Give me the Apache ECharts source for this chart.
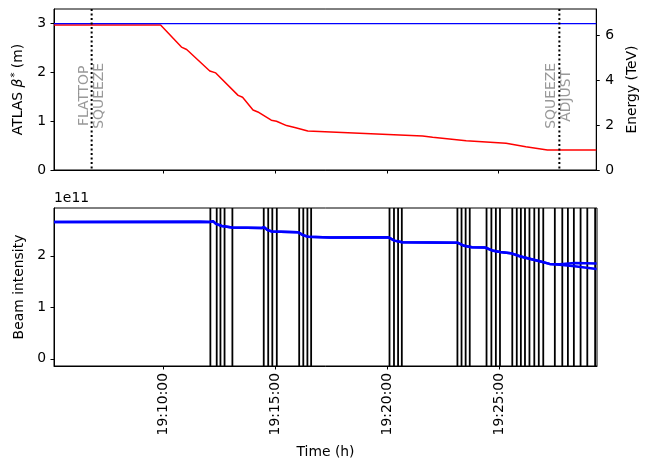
<!DOCTYPE html>
<html>
<head>
<meta charset="utf-8">
<script src="https://cdn.jsdelivr.net/npm/echarts@6/dist/echarts.min.js"></script>
<style>html,body{margin:0;padding:0;background:#fff}#c{width:647px;height:460px}</style>
</head>
<body>
<div id="c"></div>
<script>
// times are seconds since midnight
const xMin = 68707, xMax = 70162;
const timeTicks = [69000, 69300, 69600, 69900];

const betaTimes = [68707, 68993, 69049, 69063, 69125, 69141, 69201, 69213, 69241, 69254, 69290, 69304, 69331, 69353, 69388, 69696, 69723, 69813, 69920, 69973, 70031, 70162];
const betaValues = [2.97, 2.97, 2.52, 2.47, 2.03, 1.99, 1.53, 1.49, 1.23, 1.19, 1.02, 1.00, 0.91, 0.87, 0.80, 0.695, 0.67, 0.60, 0.546, 0.476, 0.41, 0.41];

const energyTimes = [68707, 70162];
const energyValues = [6.5, 6.5];

const phaseTimes = [68808, 70063];
const phaseLabels = ['FLATTOP\nSQUEEZE', 'SQUEEZE\nADJUST'];
const phaseLabelY = [1.52, 1.52];

// beam intensity in units of 1e11
const beamTimes = [68707, 69098, 69125, 69133, 69141, 69157, 69184, 69264, 69270, 69280, 69291, 69361, 69366, 69374, 69388, 69447, 69603, 69608, 69619, 69640, 69788, 69793, 69806, 69827, 69862, 69881, 69902, 69931, 69955, 69976, 70003, 70035, 70062, 70102, 70161];
const beam1Values = [2.657, 2.664, 2.660, 2.674, 2.622, 2.581, 2.550, 2.541, 2.556, 2.499, 2.474, 2.461, 2.480, 2.404, 2.372, 2.357, 2.361, 2.370, 2.296, 2.266, 2.256, 2.268, 2.195, 2.167, 2.163, 2.106, 2.076, 2.053, 1.992, 1.953, 1.905, 1.844, 1.835, 1.860, 1.850];
const beam2Values = [2.657, 2.664, 2.660, 2.674, 2.622, 2.581, 2.550, 2.541, 2.556, 2.499, 2.474, 2.461, 2.480, 2.404, 2.372, 2.357, 2.361, 2.370, 2.296, 2.266, 2.256, 2.268, 2.195, 2.167, 2.163, 2.106, 2.076, 2.053, 1.992, 1.953, 1.905, 1.844, 1.825, 1.800, 1.745];

const markerTimes = [69126, 69143, 69153, 69164, 69185,
  69269, 69281, 69292, 69304,
  69364, 69375, 69386, 69396,
  69606, 69618, 69629, 69639,
  69788, 69799, 69810, 69821,
  69866, 69879, 69891, 69902,
  69935, 69947, 69958, 69969, 69981, 69994, 70006, 70018,
  70049, 70069, 70084, 70100, 70118, 70136, 70157];

const F = 'DejaVu Sans';
const FS = 13.9;
const zip = (a, b) => a.map((v, i) => [v, b[i]]);
const pad = n => (n < 10 ? '0' : '') + n;
const fmtTime = v => pad(Math.floor(v / 3600)) + ':' + pad(Math.floor(v % 3600 / 60)) + ':' + pad(Math.round(v % 60));

function vline(color, width, dash) {
  return function (params, api) {
    const cs = params.coordSys;
    const p = api.coord([api.value(0), 0]);
    return {
      type: 'line',
      shape: { x1: p[0], y1: cs.y, x2: p[0], y2: cs.y + cs.height },
      style: { stroke: color, lineWidth: width, lineDash: dash || null, fill: null }
    };
  };
}

const axisLineStyle = { show: true, onZero: false, lineStyle: { color: '#000', width: 1 } };

const chart = echarts.init(document.getElementById('c'), null, { renderer: 'canvas' });
chart.setOption({
  animation: false,
  backgroundColor: '#fff',
  grid: [
    { left: 54, right: 50, top: 9, height: 161, show: true, borderColor: '#000', borderWidth: 1, backgroundColor: 'transparent' },
    { left: 54, right: 50, top: 208, height: 162, show: true, borderColor: '#000', borderWidth: 1, backgroundColor: 'transparent' }
  ],
  xAxis: [
    {
      type: 'value', gridIndex: 0, min: xMin, max: xMax,
      axisLine: axisLineStyle, splitLine: { show: false },
      axisTick: { show: true, length: 3.5, customValues: timeTicks, lineStyle: { color: '#000' } },
      axisLabel: { show: false, customValues: timeTicks }
    },
    {
      type: 'value', gridIndex: 1, min: xMin, max: xMax,
      axisLine: axisLineStyle, splitLine: { show: false },
      name: 'Time (h)', nameLocation: 'middle', nameGap: 79,
      nameTextStyle: { color: '#000', fontFamily: F, fontSize: FS },
      axisTick: { show: true, length: 3.5, customValues: timeTicks, lineStyle: { color: '#000' } },
      axisLabel: { color: '#000', fontFamily: F, fontSize: FS, rotate: 90, margin: 7, customValues: timeTicks, formatter: fmtTime }
    }
  ],
  yAxis: [
    {
      type: 'value', gridIndex: 0, min: 0, max: 3.3,
      axisLine: axisLineStyle, splitLine: { show: false },
      name: 'ATLAS {i|β}{s|*} (m)', nameLocation: 'middle', nameGap: 28, nameRotate: 90,
      nameTextStyle: { color: '#000', fontFamily: F, fontSize: FS,
        rich: { i: { fontStyle: 'italic', fontFamily: F, fontSize: FS, color: '#000' },
                s: { fontFamily: F, fontSize: 10, color: '#000', verticalAlign: 'top', padding: [0, 0, 6, 1] } } },
      axisTick: { show: true, length: 3.5, customValues: [0, 1, 2, 3], lineStyle: { color: '#000' } },
      axisLabel: { color: '#000', fontFamily: F, fontSize: FS, margin: 8, customValues: [0, 1, 2, 3] }
    },
    {
      type: 'value', gridIndex: 0, position: 'right', min: 0, max: 7.15,
      axisLine: axisLineStyle, splitLine: { show: false },
      name: 'Energy (TeV)', nameLocation: 'middle', nameGap: 26, nameRotate: 90,
      nameTextStyle: { color: '#000', fontFamily: F, fontSize: FS },
      axisTick: { show: true, length: 3.5, customValues: [0, 2, 4, 6], lineStyle: { color: '#000' } },
      axisLabel: { color: '#000', fontFamily: F, fontSize: FS, margin: 9, customValues: [0, 2, 4, 6] }
    },
    {
      type: 'value', gridIndex: 1, min: -0.14, max: 2.93,
      axisLine: axisLineStyle, splitLine: { show: false },
      name: 'Beam intensity', nameLocation: 'middle', nameGap: 26, nameRotate: 90,
      nameTextStyle: { color: '#000', fontFamily: F, fontSize: FS },
      axisTick: { show: true, length: 3.5, customValues: [0, 1, 2], lineStyle: { color: '#000' } },
      axisLabel: { color: '#000', fontFamily: F, fontSize: FS, margin: 8, customValues: [0, 1, 2] }
    }
  ],
  graphic: [
    { type: 'text', left: 54, top: 191, style: { text: '1e11', fontFamily: F, fontSize: FS, fill: '#000' } }
  ],
  series: [
    { type: 'line', xAxisIndex: 0, yAxisIndex: 0, data: zip(betaTimes, betaValues), showSymbol: false,
      lineStyle: { color: '#ff0000', width: 1.5 }, z: 2, silent: true },
    { type: 'line', xAxisIndex: 0, yAxisIndex: 1, data: zip(energyTimes, energyValues), showSymbol: false,
      lineStyle: { color: '#0000ff', width: 1.2 }, z: 3, silent: true },
    { type: 'custom', xAxisIndex: 0, yAxisIndex: 0, data: phaseTimes.map(t => [t]),
      renderItem: vline('#000', 2, [2, 2.5]), z: 4, silent: true },
    { type: 'scatter', xAxisIndex: 0, yAxisIndex: 0, symbolSize: 0, z: 5, silent: true,
      data: phaseTimes.map((t, i) => ({ value: [t, phaseLabelY[i]], label: { formatter: phaseLabels[i] } })),
      label: { show: true, position: 'inside', rotate: 90, align: 'center', verticalAlign: 'middle',
        color: '#808080', fontFamily: F, fontSize: FS, lineHeight: 15 } },
    { type: 'custom', xAxisIndex: 1, yAxisIndex: 2, data: markerTimes.map(t => [t]),
      renderItem: vline('#000', 1.8), z: 1, silent: true },
    { type: 'line', xAxisIndex: 1, yAxisIndex: 2, data: zip(beamTimes, beam1Values), showSymbol: false,
      lineStyle: { color: '#0000ff', width: 2.5 }, z: 3, silent: true },
    { type: 'line', xAxisIndex: 1, yAxisIndex: 2, data: zip(beamTimes, beam2Values), showSymbol: false,
      lineStyle: { color: '#0000ff', width: 2.5 }, z: 3, silent: true }
  ]
});
</script>
</body>
</html>
